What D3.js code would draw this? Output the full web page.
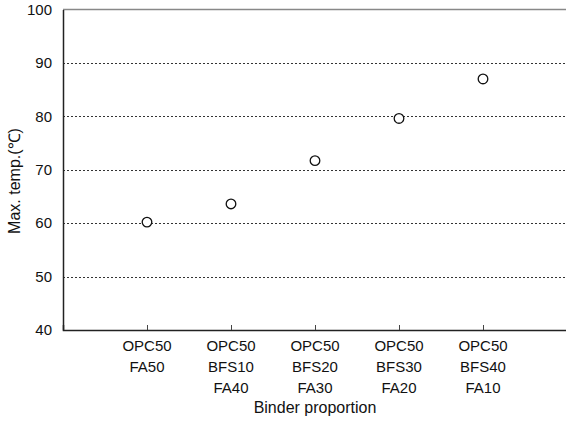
<!DOCTYPE html>
<html>
<head>
<meta charset="utf-8">
<script src="https://cdn.jsdelivr.net/npm/d3@7"></script>
<style>
  body { margin: 0; background: #fff; }
  text { font-family: "Liberation Sans", Arial, sans-serif; fill: #111; }
</style>
</head>
<body>
<div id="chart"></div>
<script>
// chart data
const categories = [
    ["OPC50", "FA50"],
    ["OPC50", "BFS10", "FA40"],
    ["OPC50", "BFS20", "FA30"],
    ["OPC50", "BFS30", "FA20"],
    ["OPC50", "BFS40", "FA10"]
];
const maxTemp = [60.2, 63.6, 71.7, 79.6, 87.0];
const yTicks = [40, 50, 60, 70, 80, 90, 100];

const width = 566, height = 423;
const margin = {top: 9.5, right: -1, bottom: 93, left: 63};

const svg = d3.select("#chart").append("svg")
    .attr("width", width)
    .attr("height", height);

const x = d3.scaleLinear()
    .domain([0, categories.length + 1])
    .range([margin.left, width - margin.right]);

const y = d3.scaleLinear()
    .domain([40, 100])
    .range([height - margin.bottom, margin.top]);

// dotted gridlines
svg.append("g")
    .selectAll("line")
    .data(yTicks.filter(d => d > 40 && d < 100))
    .join("line")
    .attr("x1", margin.left)
    .attr("x2", width)
    .attr("y1", d => Math.round(y(d)) + 0.5)
    .attr("y2", d => Math.round(y(d)) + 0.5)
    .attr("stroke", "#333")
    .attr("stroke-width", 1)
    .attr("stroke-dasharray", "2,2");

// top border
svg.append("line")
    .attr("x1", margin.left).attr("x2", width)
    .attr("y1", y(100)).attr("y2", y(100))
    .attr("stroke", "#888").attr("stroke-width", 1.5);

// y axis
const yAxis = d3.axisLeft(y).tickValues(yTicks).tickSize(0).tickPadding(11);
svg.append("g")
    .attr("transform", "translate(" + margin.left + ",0)")
    .call(yAxis)
    .call(g => g.select(".domain").attr("stroke", "#222").attr("stroke-width", 1.5))
    .selectAll("text")
    .attr("font-size", 15)
    .attr("font-family", "Liberation Sans, Arial, sans-serif");

// x axis with inner ticks
const xAxis = d3.axisBottom(x)
    .tickValues(d3.range(1, categories.length + 1))
    .tickSize(-5)
    .tickFormat("");
const gx = svg.append("g")
    .attr("transform", "translate(0," + y(40) + ")")
    .call(xAxis);
gx.select(".domain").attr("stroke", "#222").attr("stroke-width", 1.5);
gx.selectAll(".tick line").attr("stroke", "#444");

// multi-line category labels
svg.append("g")
    .selectAll("text")
    .data(categories)
    .join("text")
    .attr("x", (d, i) => x(i + 1))
    .attr("text-anchor", "middle")
    .attr("font-size", 15)
    .each(function (d, i) {
        d3.select(this).selectAll("tspan")
            .data(d)
            .join("tspan")
            .attr("x", x(i + 1))
            .attr("y", (t, j) => y(40) + 21 + j * 21)
            .text(t => t);
    });

// points
svg.append("g")
    .selectAll("circle")
    .data(maxTemp)
    .join("circle")
    .attr("cx", (d, i) => x(i + 1))
    .attr("cy", d => y(d))
    .attr("r", 4.8)
    .attr("fill", "#fff")
    .attr("stroke", "#111")
    .attr("stroke-width", 1.3);

// axis titles
svg.append("text")
    .attr("x", x(3))
    .attr("y", 413)
    .attr("text-anchor", "middle")
    .attr("font-size", 16)
    .text("Binder proportion");

svg.append("text")
    .attr("transform", "translate(20,181) rotate(-90)")
    .attr("text-anchor", "middle")
    .attr("font-size", 16)
    .text("Max. temp.(℃)");
</script>
</body>
</html>
